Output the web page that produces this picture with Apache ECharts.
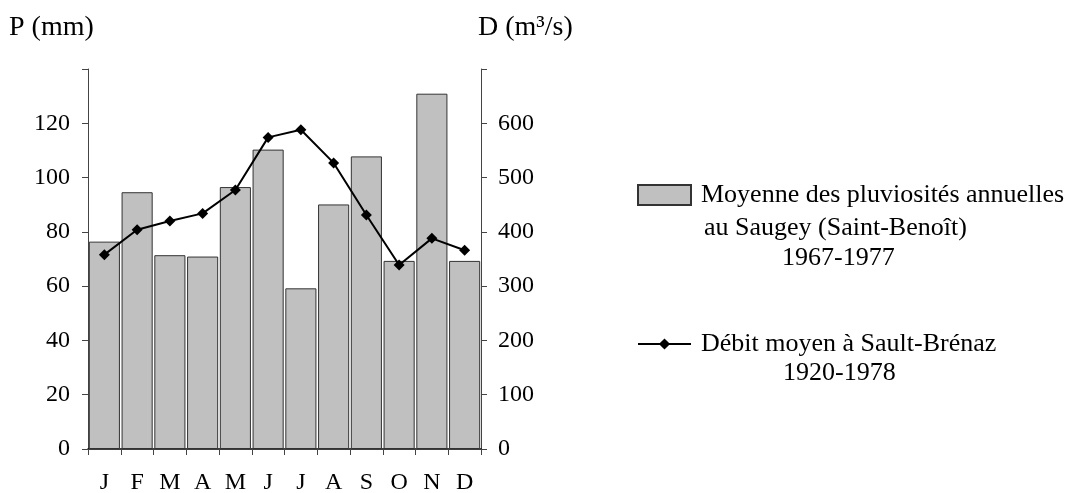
<!DOCTYPE html>
<html><head><meta charset="utf-8">
<script src="https://cdn.jsdelivr.net/npm/echarts@6/dist/echarts.min.js"></script>
<style>html,body{margin:0;padding:0;background:#fff}#c{width:1072px;height:493px}</style>
</head><body><div id="c"></div>
<script>
var months = ['J','F','M','A','M','J','J','A','S','O','N','D'];
var rainfall = [76.4, 94.6, 71.4, 70.9, 96.5, 110.3, 59.2, 90.1, 107.8, 69.3, 130.9, 69.3];
var discharge = [358, 404, 420, 434, 477, 574, 588, 527, 431, 339, 388, 366];
var rainName = 'Moyenne des pluviosités annuelles';
var flowName = 'Débit moyen à Sault-Brénaz';
var FONT = 'Liberation Serif';
var FS = 24;
var LFS = 26;
var chart = echarts.init(document.getElementById('c'));
chart.setOption({
  animation: false,
  textStyle: {fontFamily: FONT, color: '#000'},
  title: [
    {text: 'P (mm)', left: 4, top: 9, textStyle: {fontFamily: FONT, fontWeight: 'normal', fontSize: 28, color: '#000'}},
    {text: 'D (m³/s)', left: 473, top: 9, textStyle: {fontFamily: FONT, fontWeight: 'normal', fontSize: 28, color: '#000'}}
  ],
  grid: {left: 88, right: 591, top: 69, bottom: 44, outerBoundsMode: 'none', containLabel: false},
  legend: [
    {data: [{name: rainName, icon: 'rect'}], left: 637, top: 182, padding: 0, itemWidth: 53, itemHeight: 20, itemGap: 0,
     textStyle: {fontFamily: FONT, fontSize: LFS, color: '#000', padding: [2, 0, 0, 5]}},
    {data: [flowName], left: 637, top: 331, padding: 0, itemWidth: 53, itemHeight: 14,
     textStyle: {fontFamily: FONT, fontSize: LFS, color: '#000', padding: [0, 0, 0, 5]}}
  ],
  graphic: [
    {type: 'text', left: 704, top: 215, style: {text: 'au Saugey (Saint-Benoît)', font: LFS + 'px "' + FONT + '"', fill: '#000'}},
    {type: 'text', left: 782, top: 245, style: {text: '1967-1977', font: LFS + 'px "' + FONT + '"', fill: '#000'}},
    {type: 'text', left: 783, top: 360, style: {text: '1920-1978', font: LFS + 'px "' + FONT + '"', fill: '#000'}}
  ],
  xAxis: {
    type: 'category', data: months, boundaryGap: true,
    axisLine: {lineStyle: {color: '#000', width: 1.5}},
    axisTick: {show: true, length: 6, lineStyle: {color: '#444'}},
    axisLabel: {fontFamily: FONT, fontSize: FS, color: '#000', margin: 22}
  },
  yAxis: [
    {type: 'value', min: 0, max: 140, interval: 20, position: 'left',
     axisLine: {show: true, lineStyle: {color: '#444'}},
     axisTick: {show: true, length: 6, lineStyle: {color: '#444'}},
     splitLine: {show: false},
     axisLabel: {fontFamily: FONT, fontSize: FS, color: '#000', margin: 18,
       formatter: function (v) { return v === 140 ? '' : v; }}},
    {type: 'value', min: 0, max: 700, interval: 100, position: 'right',
     axisLine: {show: true, lineStyle: {color: '#444'}},
     axisTick: {show: true, length: 6, lineStyle: {color: '#444'}},
     splitLine: {show: false},
     axisLabel: {fontFamily: FONT, fontSize: FS, color: '#000', margin: 17,
       formatter: function (v) { return v === 700 ? '' : v; }}}
  ],
  series: [
    {name: rainName, type: 'bar', data: rainfall, yAxisIndex: 0, barCategoryGap: '5%',
     itemStyle: {color: '#c0c0c0', borderColor: '#333', borderWidth: 1}},
    {name: flowName, type: 'line', data: discharge, yAxisIndex: 1,
     symbol: 'diamond', symbolSize: 11, showSymbol: true,
     lineStyle: {color: '#000', width: 2}, itemStyle: {color: '#000'}}
  ]
});
</script></body></html>
